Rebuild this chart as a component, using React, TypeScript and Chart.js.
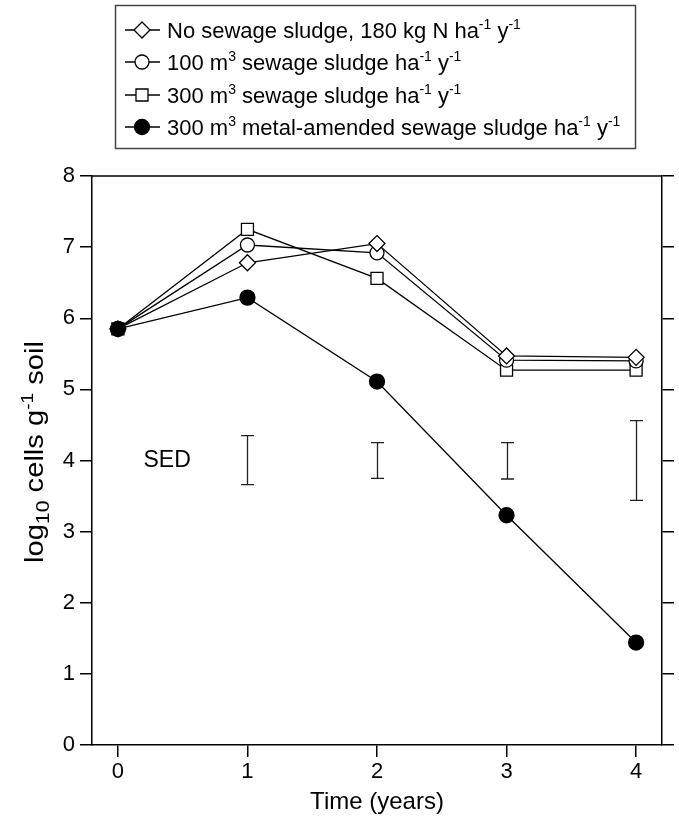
import React, { useEffect, useRef } from 'react';
import { Chart, registerables } from 'chart.js';

Chart.register(...registerables);

// ---- data ----
const years = [0, 1, 2, 3, 4];
const noSludge = [5.85, 6.78, 7.05, 5.47, 5.45];
const sludge100 = [5.85, 7.03, 6.92, 5.41, 5.4];
const sludge300 = [5.85, 7.25, 6.56, 5.27, 5.27];
const metalSludge = [5.85, 6.29, 5.11, 3.23, 1.44];

const sedYears = [1, 2, 3, 4];
const sedLow = [3.66, 3.75, 3.74, 3.44];
const sedHigh = [4.35, 4.25, 4.25, 4.56];
const sedLabel = 'SED';
const sedLabelPos = { x: 0.38, y: 4.0 };

const xTicks = [0, 1, 2, 3, 4];
const yTicks = [0, 1, 2, 3, 4, 5, 6, 7, 8];

type Seg = { t: string; sup?: boolean; sub?: boolean };

const legendLabels: Seg[][] = [
  [{ t: 'No sewage sludge, 180 kg N ha' }, { t: '-1', sup: true }, { t: ' y' }, { t: '-1', sup: true }],
  [{ t: '100 m' }, { t: '3', sup: true }, { t: ' sewage sludge ha' }, { t: '-1', sup: true }, { t: ' y' }, { t: '-1', sup: true }],
  [{ t: '300 m' }, { t: '3', sup: true }, { t: ' sewage sludge ha' }, { t: '-1', sup: true }, { t: ' y' }, { t: '-1', sup: true }],
  [{ t: '300 m' }, { t: '3', sup: true }, { t: ' metal-amended sewage sludge ha' }, { t: '-1', sup: true }, { t: ' y' }, { t: '-1', sup: true }],
];
const legendStyles = ['rectRot', 'circle', 'rect', 'circleFilled'];

const yTitle: Seg[] = [
  { t: 'log' }, { t: '10', sub: true }, { t: ' cells g' }, { t: '-1', sup: true }, { t: ' soil' },
];
const xTitle = 'Time (years)';

// ---- styles ----
const FONT = "'Liberation Sans', Arial, Helvetica, sans-serif";
const BLACK = '#000';

function drawRich(ctx: CanvasRenderingContext2D, segs: Seg[], x: number, y: number, size: number) {
  let cx = x;
  ctx.textBaseline = 'alphabetic';
  ctx.textAlign = 'left';
  for (const s of segs) {
    let fs = size;
    let dy = 0;
    if (s.sup) { fs = Math.round(size * 0.64); dy = -size * 0.4; }
    if (s.sub) { fs = Math.round(size * 0.72); dy = size * 0.22; }
    ctx.font = `${fs}px ${FONT}`;
    ctx.fillText(s.t, cx, y + dy);
    cx += ctx.measureText(s.t).width;
  }
  return cx - x;
}

function drawMarker(ctx: CanvasRenderingContext2D, style: string, x: number, y: number) {
  ctx.beginPath();
  if (style === 'rectRot') {
    const r = 8;
    ctx.moveTo(x - r, y); ctx.lineTo(x, y - r); ctx.lineTo(x + r, y); ctx.lineTo(x, y + r); ctx.closePath();
    ctx.fillStyle = '#fff';
  } else if (style === 'circle') {
    ctx.arc(x, y, 7, 0, Math.PI * 2);
    ctx.fillStyle = '#fff';
  } else if (style === 'rect') {
    ctx.rect(x - 6, y - 6, 12, 12);
    ctx.fillStyle = '#fff';
  } else {
    ctx.arc(x, y, 7.5, 0, Math.PI * 2);
    ctx.fillStyle = BLACK;
  }
  ctx.fill();
  ctx.stroke();
}

const overlayPlugin = {
  id: 'overlay',
  afterDraw(chart: any) {
    const { ctx, chartArea, scales } = chart;
    const xs = scales.x;
    const ys = scales.y;
    ctx.save();

    // top frame line
    ctx.strokeStyle = BLACK;
    ctx.lineWidth = 1.5;
    ctx.beginPath();
    ctx.moveTo(chartArea.left, chartArea.top);
    ctx.lineTo(chartArea.right, chartArea.top);
    ctx.stroke();

    // SED bars
    ctx.strokeStyle = '#222';
    ctx.lineWidth = 1.3;
    sedYears.forEach((yr, i) => {
      const px = Math.round(xs.getPixelForValue(yr)) + 0.5;
      const y1 = ys.getPixelForValue(sedLow[i]);
      const y2 = ys.getPixelForValue(sedHigh[i]);
      ctx.beginPath();
      ctx.moveTo(px, y1); ctx.lineTo(px, y2);
      ctx.moveTo(px - 6.5, y1); ctx.lineTo(px + 6.5, y1);
      ctx.moveTo(px - 6.5, y2); ctx.lineTo(px + 6.5, y2);
      ctx.stroke();
    });
    ctx.fillStyle = BLACK;
    ctx.font = `23px ${FONT}`;
    ctx.textAlign = 'center';
    ctx.textBaseline = 'middle';
    ctx.fillText(sedLabel, xs.getPixelForValue(sedLabelPos.x), ys.getPixelForValue(sedLabelPos.y));

    // y title (rotated, with sub/superscripts)
    ctx.save();
    ctx.translate(43, 563);
    ctx.rotate(-Math.PI / 2);
    ctx.scale(1.12, 1);
    ctx.fillStyle = BLACK;
    drawRich(ctx, yTitle, 0, 0, 26);
    ctx.restore();

    // legend box
    ctx.strokeStyle = '#444';
    ctx.lineWidth = 1.5;
    ctx.strokeRect(115.5, 5.5, 520, 143);
    const rowY = [30, 62, 95, 127];
    legendLabels.forEach((segs, i) => {
      const cy = rowY[i];
      ctx.strokeStyle = BLACK;
      ctx.lineWidth = 1.3;
      ctx.beginPath();
      ctx.moveTo(125, cy); ctx.lineTo(160, cy);
      ctx.stroke();
      drawMarker(ctx, legendStyles[i], 142, cy);
      ctx.fillStyle = BLACK;
      drawRich(ctx, segs, 167, cy + 8, 22);
    });

    ctx.restore();
  },
};

function series(vals: number[]) {
  return years.map((x, i) => ({ x, y: vals[i] }));
}

export default function App() {
  const ref = useRef<HTMLCanvasElement | null>(null);
  useEffect(() => {
    if (!ref.current) return;
    const common = {
      borderColor: BLACK,
      borderWidth: 1.3,
      pointBorderColor: BLACK,
      pointBorderWidth: 1.3,
      tension: 0,
      showLine: true,
    };
    const tickGrid = {
      display: true,
      drawOnChartArea: false,
      drawTicks: true,
      tickLength: 12,
      color: BLACK,
      lineWidth: 1.5,
    };
    const chart = new Chart(ref.current, {
      type: 'line',
      data: {
        datasets: [
          { ...common, label: 'metal', data: series(metalSludge), pointStyle: 'circle', pointRadius: 7.5, pointBackgroundColor: BLACK },
          { ...common, label: 'none', data: series(noSludge), pointStyle: 'rectRot', pointRadius: 8, pointBackgroundColor: '#fff' },
          { ...common, label: '100', data: series(sludge100), pointStyle: 'circle', pointRadius: 7, pointBackgroundColor: '#fff' },
          { ...common, label: '300', data: series(sludge300), pointStyle: 'rect', pointRadius: 8.5, pointBackgroundColor: '#fff' },
        ],
      },
      options: {
        animation: false,
        responsive: false,
        devicePixelRatio: 1,
        layout: { padding: { top: 176, left: 0, right: 0, bottom: 0 } },
        plugins: { legend: { display: false }, tooltip: { enabled: false } },
        scales: {
          x: {
            type: 'linear',
            position: 'bottom',
            min: -0.2,
            max: 4.2,
            afterBuildTicks: (s: any) => { s.ticks = xTicks.map((v) => ({ value: v })); },
            afterFit: (s: any) => { s.height = 72; },
            grid: tickGrid,
            border: { display: true, color: BLACK, width: 1.5 },
            ticks: { color: BLACK, font: { family: FONT, size: 22 }, padding: 2, maxRotation: 0 },
            title: { display: true, text: xTitle, color: BLACK, font: { family: FONT, size: 24 }, padding: { top: 0, bottom: 0 } },
          },
          y: {
            type: 'linear',
            position: 'left',
            min: 0,
            max: 8,
            afterBuildTicks: (s: any) => { s.ticks = yTicks.map((v) => ({ value: v })); },
            afterFit: (s: any) => { s.width = 92; },
            grid: tickGrid,
            border: { display: true, color: BLACK, width: 1.5 },
            ticks: { color: BLACK, font: { family: FONT, size: 22 }, padding: 5 },
          },
          y2: {
            type: 'linear',
            position: 'right',
            min: 0,
            max: 8,
            afterBuildTicks: (s: any) => { s.ticks = yTicks.map((v) => ({ value: v })); },
            afterFit: (s: any) => { s.width = 17; },
            grid: tickGrid,
            border: { display: true, color: BLACK, width: 1.5 },
            ticks: { display: false },
          },
        },
      },
      plugins: [overlayPlugin],
    } as any);
    return () => chart.destroy();
  }, []);

  return (
    <div style={{ position: 'fixed', left: 0, top: 0, width: 679, height: 817, background: '#fff' }}>
      <canvas ref={ref} width={679} height={817} style={{ display: 'block' }} />
    </div>
  );
}
